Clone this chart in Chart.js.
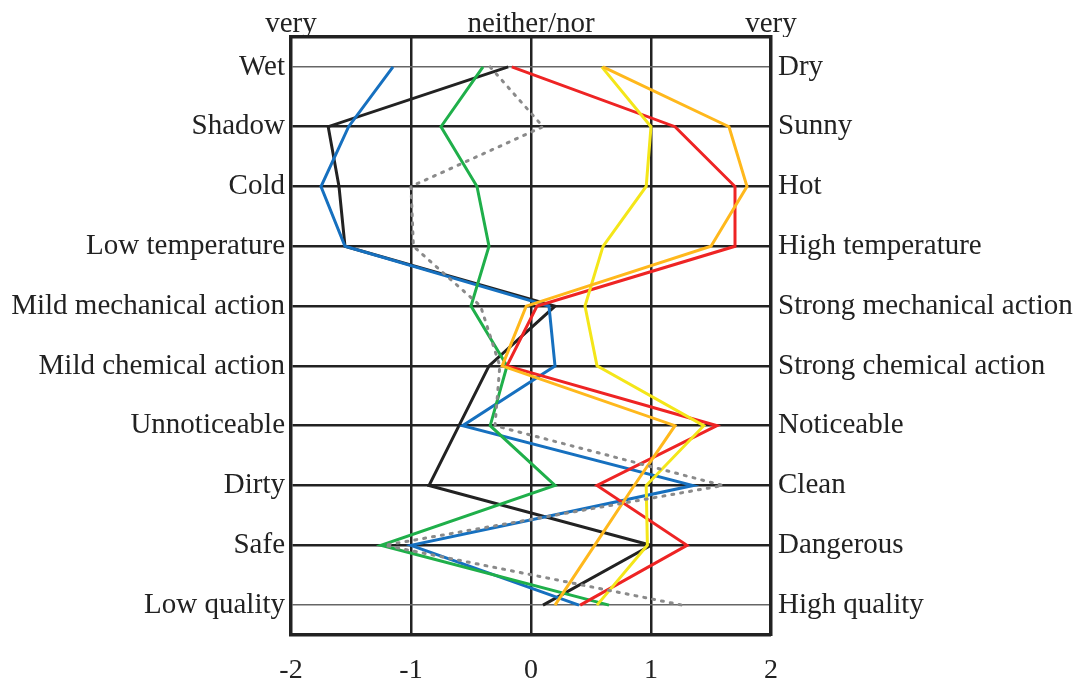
<!DOCTYPE html>
<html>
<head>
<meta charset="utf-8">
<script src="https://cdn.jsdelivr.net/npm/chart.js@4"></script>
<style>
  body { margin: 0; background: #fff; }
  #wrap { width: 1078px; height: 686px; }
</style>
</head>
<body>
<div id="wrap"><canvas id="profile" width="1078" height="686"></canvas></div>
<script>
const leftLabels = ['Wet', 'Shadow', 'Cold', 'Low temperature', 'Mild mechanical action',
  'Mild chemical action', 'Unnoticeable', 'Dirty', 'Safe', 'Low quality'];
const rightLabels = ['Dry', 'Sunny', 'Hot', 'High temperature', 'Strong mechanical action',
  'Strong chemical action', 'Noticeable', 'Clean', 'Dangerous', 'High quality'];
const xTicks = [-2, -1, 0, 1, 2];
const topTicks = { '-2': 'very', '0': 'neither/nor', '2': 'very' };

const blueVals   = [-1.15, -1.52, -1.75, -1.55, 0.15, 0.20, -0.57, 1.35, -1.00, 0.40];
const blackVals  = [-0.19, -1.69, -1.60, -1.55, 0.20, -0.35, -0.60, -0.85, 1.00, 0.10];
const greenVals  = [-0.40, -0.75, -0.45, -0.35, -0.50, -0.20, -0.34, 0.20, -1.25, 0.65];
const grayVals   = [-0.34, 0.10, -1.00, -0.98, -0.42, -0.26, -0.30, 1.60, -1.22, 1.26];
const redVals    = [-0.16, 1.20, 1.70, 1.70, 0.05, -0.20, 1.55, 0.55, 1.30, 0.41];
const yellowVals = [0.59, 1.00, 0.96, 0.60, 0.45, 0.55, 1.44, 0.96, 0.97, 0.55];
const orangeVals = [0.60, 1.65, 1.80, 1.50, -0.04, -0.24, 1.20, 0.86, 0.53, 0.20];

const font = { family: '"Liberation Serif", "Times New Roman", serif', size: 29 };
const ink = '#222';

function line(vals, color, dash) {
  return {
    data: vals,
    borderColor: color,
    borderWidth: 3,
    borderDash: dash || [],
    borderCapStyle: dash ? 'round' : 'butt',
    pointRadius: 0,
    tension: 0,
    fill: false,
  };
}

const config_profile = {
  type: 'line',
  data: {
    labels: leftLabels,
    datasets: [
      line(grayVals, '#8a8a8a', [2, 7]),
      line(orangeVals, '#ffb81c'),
      line(yellowVals, '#f4e619'),
      line(redVals, '#ee2424'),
      line(greenVals, '#1faf4a'),
      line(blueVals, '#1670bf'),
      line(blackVals, '#222222'),
    ],
  },
  options: {
    responsive: false,
    animation: false,
    indexAxis: 'y',
    layout: { padding: 0 },
    plugins: {
      legend: { display: false },
      tooltip: { enabled: false },
    },
    scales: {
      x: {
        type: 'linear',
        position: 'bottom',
        min: -2, max: 2,
        afterBuildTicks: s => { s.ticks = xTicks.map(v => ({ value: v })); },
        afterFit: s => { s.height = 51; },
        grid: {
          drawTicks: false,
          color: ink,
          lineWidth: c => (c.tick && Math.abs(c.tick.value) === 2 ? 0 : 2.5),
        },
        border: { display: true, color: ink, width: 3.5 },
        ticks: { font: { ...font, size: 28 }, color: ink, padding: 19, maxRotation: 0 },
      },
      x2: {
        type: 'linear',
        position: 'top',
        min: -2, max: 2,
        afterBuildTicks: s => { s.ticks = xTicks.map(v => ({ value: v })); },
        afterFit: s => { s.height = 37; },
        grid: { display: false, drawTicks: false },
        border: { display: true, color: ink, width: 3.5 },
        ticks: {
          font, color: ink, padding: -5, maxRotation: 0, autoSkip: false,
          callback: v => topTicks[String(v)] || '',
        },
      },
      y: {
        type: 'category',
        position: 'left',
        offset: true,
        afterFit: s => { s.width = 291; },
        grid: {
          offset: false,
          drawTicks: false,
          color: c => (c.index === 0 || c.index === leftLabels.length - 1 ? '#666' : ink),
          lineWidth: c => (c.index === 0 || c.index === leftLabels.length - 1 ? 1.5 : 2.5),
        },
        border: { display: true, color: ink, width: 3.5 },
        ticks: { font, color: ink, padding: 6, autoSkip: false },
      },
      y2: {
        type: 'category',
        position: 'right',
        labels: rightLabels,
        offset: true,
        afterFit: s => { s.width = 307; },
        grid: { display: false, drawTicks: false },
        border: { display: true, color: ink, width: 3.5 },
        ticks: { font, color: ink, padding: 7, autoSkip: false },
      },
    },
  },
};

const myProfile = new Chart(document.getElementById('profile'), config_profile);
</script>
</body>
</html>
